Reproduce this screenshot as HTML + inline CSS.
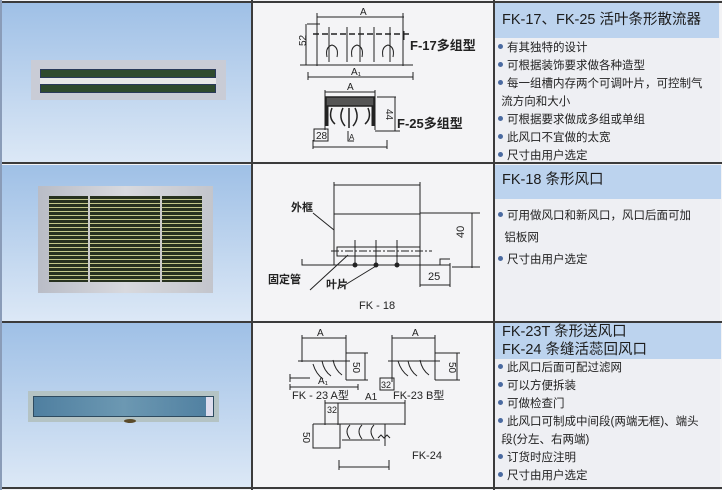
<!DOCTYPE html>
<html><head><meta charset="utf-8"><style>
*{margin:0;padding:0;box-sizing:border-box}
body{width:722px;height:490px;position:relative;background:#f3f3f5;overflow:hidden;font-family:"Liberation Sans","Noto Sans CJK SC",sans-serif;color:#222}
.a{position:absolute}
.left{background:linear-gradient(#9fc0e6,#dce8f6)}
.hd{background:#bcd3ee;font-size:14px;color:#1c1c1c;padding-left:7px;line-height:19px}
.bl{font-size:11.5px;line-height:18px;color:#222;white-space:nowrap}
.bl span{display:inline-block;width:5px;height:5px;border-radius:50%;background:#4a6aa0;margin:0 4px 2px 0}
.hl{background:#3b3b3b}
</style></head><body>
<div class="a left" style="left:2px;top:3px;width:249px;height:160px"></div>
<div class="a left" style="left:2px;top:165px;width:249px;height:156px"></div>
<div class="a left" style="left:2px;top:323px;width:249px;height:164px"></div>
<div class="a" style="left:253px;top:3px;width:240px;height:484px;background:#f4f4f6"></div>
<div class="a" style="left:495px;top:3px;width:225px;height:484px;background:#eeeff3"></div>
<div class="a hl" style="left:0;top:1px;width:722px;height:2px"></div>
<div class="a hl" style="left:0;top:162px;width:722px;height:2px"></div>
<div class="a hl" style="left:0;top:321px;width:722px;height:2px"></div>
<div class="a hl" style="left:0;top:487px;width:722px;height:2px"></div>
<div class="a hl" style="left:251px;top:0;width:2px;height:490px"></div>
<div class="a hl" style="left:493px;top:0;width:2px;height:490px"></div>
<div class="a" style="left:0;top:0;width:2px;height:490px;background:#8a9cb8"></div>

<div class="a" style="left:31px;top:60px;width:195px;height:40px;background:#c9ccd6"></div>
<div class="a" style="left:40px;top:69px;width:176px;height:9px;background:#2f4a2e;border:1px solid #2a3a5a"></div>
<div class="a" style="left:40px;top:78px;width:176px;height:6px;background:#e8e8e8"></div>
<div class="a" style="left:40px;top:84px;width:176px;height:9px;background:#2f4a2e;border:1px solid #2a3a5a"></div>

<div class="a" style="left:38px;top:186px;width:175px;height:107px;background:linear-gradient(90deg,#b9bcc6,#d8d9de,#c3c5cc)"></div>
<div class="a" style="left:49px;top:196px;width:153px;height:86px;background:repeating-linear-gradient(#27311f 0 3px,#c2c68a 3px 4px)"></div>
<div class="a" style="left:88px;top:196px;width:2px;height:86px;background:#ccc"></div>
<div class="a" style="left:160px;top:196px;width:2px;height:86px;background:#ccc"></div>

<div class="a" style="left:28px;top:391px;width:191px;height:31px;background:#b4c3c4"></div>
<div class="a" style="left:33px;top:396px;width:181px;height:21px;background:linear-gradient(90deg,#4f7fa0,#6c98b2,#4f7fa0);border:1px solid #2e4b60"></div>
<div class="a" style="left:206px;top:397px;width:7px;height:19px;background:#dde"></div>
<div class="a" style="left:124px;top:419px;width:12px;height:4px;border-radius:50%;background:#5a4a2a"></div>

<svg class="a" style="left:0;top:0" width="722" height="490" viewBox="0 0 722 490" font-family="Liberation Sans,Noto Sans CJK SC,sans-serif" fill="none" stroke="#222" stroke-width="1">
<path d="M317 17H404M317 13V66M403 13V66"/>
<path d="M313 34H410" stroke-dasharray="6 3" stroke-width="1.5"/>
<path d="M307 24H320M306 24V65M300 65H413M308 77H413M308 72V80M413 72V80"/>
<path d="M329 27V62M347 27V62M360 27V62M374 27V62M390 27V62M404 31V40"/>
<path d="M327 57q-2-10 5-12q7 2 5 12M352 57q-2-10 5-12q7 2 5 12M383 57q-2-10 5-12q7 2 5 12"/>
<g fill="#222" stroke="none" font-size="10">
<text x="360" y="15">A</text><text x="351" y="75">A₁</text>
<text x="302" y="50" transform="rotate(-90 302 46)">52</text>
<text x="410" y="50" font-size="13" font-weight="bold">F-17多组型</text>
</g>
<path d="M325 92H375M325 90V130M375 90V130M377 97H396M395 97V131M375 131H400"/>
<path d="M326 97H374V106H326Z" fill="#555" stroke-width="1.5"/>
<path d="M327 106V126M373 106V126" stroke-width="3"/>
<path d="M332 108q-4 10 3 16M343 108q-5 10 2 18M355 108q5 10-2 18M368 108q4 10-3 16M349 108V128" stroke-width="1.5"/>
<path d="M314 129H328V141H314ZM313 147H387M313 140V149M387 140V149M348 131V141H354"/>
<g fill="#222" stroke="none" font-size="10">
<text x="347" y="90">A</text><text x="316" y="139">28</text><text x="349" y="140" font-size="8">A</text>
<text x="386" y="109" transform="rotate(90 386 109)">44</text>
<text x="397" y="128" font-size="13" font-weight="bold">F-25多组型</text>
</g>
<path d="M334 185H420M334 182V265M420 182V265M334 214H420M420 213H480M472 213V268M452 267H480"/>
<path d="M331 251H432" stroke-dasharray="8 2 2 2"/>
<path d="M337 247H420V256H337Z"/>
<path d="M355 240V266M376 240V266M397 240V266M302 265H450M302 259V265H315M440 265V259H450M420 263V287M450 263V287M420 285H450"/>
<circle cx="355" cy="265" r="2" fill="#222"/><circle cx="376" cy="265" r="2" fill="#222"/><circle cx="397" cy="265" r="2" fill="#222"/>
<path d="M313 213L334 230M310 290L348 255M340 288L376 266"/>
<g fill="#222" stroke="none" font-size="11">
<text x="291" y="211" font-weight="bold">外框</text>
<text x="268" y="283" font-weight="bold">固定管</text>
<text x="326" y="288" font-weight="bold">叶片</text>
<text x="428" y="280">25</text>
<text x="468" y="234" transform="rotate(-90 468 238)">40</text>
<text x="359" y="309">FK - 18</text>
</g>
<path d="M302 338H346M302 335V362M346 335V380M298 361H350" />
<path d="M313 364q3 10 10 15M322 361q2 10 9 15M333 360q2 10 9 15"/>
<path d="M346 353H368M346 380H368M365 353V380M290 378H310M290 374V382M290 387H358M290 384V390M358 384V390"/>
<path d="M392 338H435M392 335V382M435 335V380M388 361H440"/>
<path d="M398 361q3 10 10 15M408 361q2 10 9 15M420 360q2 10 9 15"/>
<path d="M435 353H460M435 380H460M457 353V380M380 378H394V390H380Z"/>
<path d="M325 403H405M325 400V425M405 400V425M338 403V425M313 424H405M313 424V448H340V424M342 440H380M350 425q-6 6 0 14M362 425q-6 6 0 14M374 425q-6 6 0 14M339 460V470M389 460V470M339 467H389M385 424V446"/>
<path d="M378 438l3-3l3 3l3-3l3 3"/>
<g fill="#222" stroke="none" font-size="10">
<text x="317" y="336">A</text><text x="412" y="336">A</text>
<text x="318" y="384">A₁</text>
<text x="292" y="399" font-size="11">FK - 23  A型</text>
<text x="393" y="399" font-size="11">FK-23  B型</text>
<text x="365" y="400">A1</text>
<text x="381" y="388" font-size="9">32</text>
<text x="327" y="413" font-size="9">32</text>
<text x="353" y="362" transform="rotate(90 353 362)">50</text>
<text x="449" y="362" transform="rotate(90 449 362)">50</text>
<text x="303" y="432" transform="rotate(90 303 432)">50</text>
<text x="412" y="459" font-size="11">FK-24</text>
</g>
</svg>

<div class="a hd" style="left:495px;top:3px;width:224px;height:35px;padding-top:8px;font-size:14.5px">FK-17、FK-25 活叶条形散流器</div>
<div class="a bl" style="left:498px;top:39px">
<div><span></span>有其独特的设计</div>
<div><span></span>可根据装饰要求做各种造型</div>
<div><span></span>每一组槽内存两个可调叶片，可控制气</div>
<div>&nbsp;流方向和大小</div>
<div><span></span>可根据要求做成多组或单组</div>
<div><span></span>此风口不宜做的太宽</div>
<div><span></span>尺寸由用户选定</div>
</div>
<div class="a hd" style="left:495px;top:165px;width:226px;height:34px;padding-top:6px;font-size:14.5px">FK-18 条形风口</div>
<div class="a bl" style="left:498px;top:205px;line-height:22px">
<div><span></span>可用做风口和新风口，风口后面可加</div>
<div>&nbsp;&nbsp;铝板网</div>
<div><span></span>尺寸由用户选定</div>
</div>
<div class="a hd" style="left:495px;top:323px;width:226px;height:36px;padding-top:0;font-size:14.5px;line-height:18px">FK-23T 条形送风口<br>FK-24 条缝活蕊回风口</div>
<div class="a bl" style="left:498px;top:359px">
<div><span></span>此风口后面可配过滤网</div>
<div><span></span>可以方便拆装</div>
<div><span></span>可做检查门</div>
<div><span></span>此风口可制成中间段(两端无框)、端头</div>
<div>&nbsp;段(分左、右两端)</div>
<div><span></span>订货时应注明</div>
<div><span></span>尺寸由用户选定</div>
</div>
</body></html>
